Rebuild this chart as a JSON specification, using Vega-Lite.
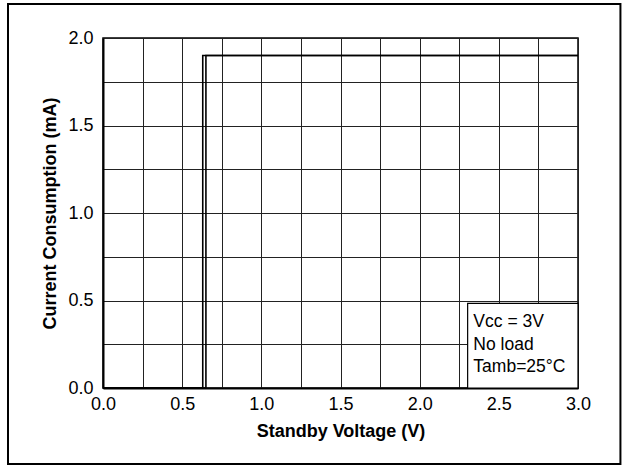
{
  "$schema": "https://vega.github.io/schema/vega-lite/v6.json",
  "width": 475,
  "height": 350,
  "autosize": "none",
  "padding": {"left": 103, "top": 38, "right": 44, "bottom": 77},
  "background": "white",
  "config": {
    "font": "Liberation Sans",
    "view": {"stroke": "#000", "strokeWidth": 1.5},
    "axis": {
      "labelFont": "Liberation Sans",
      "titleFont": "Liberation Sans",
      "labelFontSize": 18,
      "titleFontSize": 18,
      "titleFontWeight": "bold",
      "labelColor": "#000",
      "titleColor": "#000",
      "domainColor": "#000",
      "domainWidth": 2,
      "gridColor": "#222",
      "gridWidth": 1,
      "gridOpacity": 1,
      "tickSize": 0,
      "labelFlush": false,
      "labelOverlap": false
    }
  },
  "layer": [
    {
      "data": {"values": [
        {"v": 0, "i": 0, "s": "A", "o": 1},
        {"v": 0.63, "i": 0, "s": "A", "o": 2},
        {"v": 0.63, "i": 1.9, "s": "A", "o": 3},
        {"v": 3.0, "i": 1.9, "s": "A", "o": 4},
        {"v": 0, "i": 0, "s": "B", "o": 1},
        {"v": 0.65, "i": 0, "s": "B", "o": 2},
        {"v": 0.65, "i": 1.9, "s": "B", "o": 3},
        {"v": 3.0, "i": 1.9, "s": "B", "o": 4}
      ]},
      "mark": {"type": "line", "color": "#000", "strokeWidth": 1.6, "clip": false},
      "encoding": {
        "x": {
          "field": "v", "type": "quantitative",
          "scale": {"domain": [0, 3], "nice": false, "zero": false},
          "axis": {
            "title": "Standby Voltage (V)",
            "values": [0, 0.25, 0.5, 0.75, 1, 1.25, 1.5, 1.75, 2, 2.25, 2.5, 2.75, 3],
            "labelExpr": "(datum.value * 2) % 1 == 0 ? format(datum.value, '.1f') : ''",
            "labelPadding": 7,
            "titlePadding": 9
          }
        },
        "y": {
          "field": "i", "type": "quantitative",
          "scale": {"domain": [0, 2], "nice": false, "zero": false},
          "axis": {
            "title": "Current Consumption (mA)",
            "values": [0, 0.25, 0.5, 0.75, 1, 1.25, 1.5, 1.75, 2],
            "labelExpr": "(datum.value * 2) % 1 == 0 ? format(datum.value, '.1f') : ''",
            "labelPadding": 10,
            "titlePadding": 8
          }
        },
        "detail": {"field": "s"},
        "order": {"field": "o", "type": "quantitative"}
      }
    },
    {
      "data": {"values": [{}]},
      "mark": {"type": "rect", "fill": "white", "stroke": "#000", "strokeWidth": 1.2, "clip": false},
      "encoding": {
        "x": {"datum": 2.303, "type": "quantitative", "axis": {
            "title": "Standby Voltage (V)",
            "values": [0, 0.25, 0.5, 0.75, 1, 1.25, 1.5, 1.75, 2, 2.25, 2.5, 2.75, 3],
            "labelExpr": "(datum.value * 2) % 1 == 0 ? format(datum.value, '.1f') : ''",
            "labelPadding": 7,
            "titlePadding": 9
          }},
        "x2": {"datum": 3.0},
        "y": {"datum": 0.484, "type": "quantitative", "axis": {
            "title": "Current Consumption (mA)",
            "values": [0, 0.25, 0.5, 0.75, 1, 1.25, 1.5, 1.75, 2],
            "labelExpr": "(datum.value * 2) % 1 == 0 ? format(datum.value, '.1f') : ''",
            "labelPadding": 10,
            "titlePadding": 8
          }},
        "y2": {"datum": 0}
      }
    },
    {
      "data": {"values": [{}]},
      "mark": {"type": "text", "align": "left", "baseline": "top", "fontSize": 17.5, "lineHeight": 22.5, "font": "Liberation Sans", "color": "#000", "clip": false},
      "encoding": {
        "x": {"datum": 2.339, "type": "quantitative", "axis": {
            "title": "Standby Voltage (V)",
            "values": [0, 0.25, 0.5, 0.75, 1, 1.25, 1.5, 1.75, 2, 2.25, 2.5, 2.75, 3],
            "labelExpr": "(datum.value * 2) % 1 == 0 ? format(datum.value, '.1f') : ''",
            "labelPadding": 7,
            "titlePadding": 9
          }},
        "y": {"datum": 0.428, "type": "quantitative", "axis": {
            "title": "Current Consumption (mA)",
            "values": [0, 0.25, 0.5, 0.75, 1, 1.25, 1.5, 1.75, 2],
            "labelExpr": "(datum.value * 2) % 1 == 0 ? format(datum.value, '.1f') : ''",
            "labelPadding": 10,
            "titlePadding": 8
          }},
        "text": {"value": ["Vcc = 3V", "No load", "Tamb=25°C"]}
      }
    },
    {
      "data": {"values": [{}]},
      "mark": {"type": "rect", "fill": null, "fillOpacity": 0, "stroke": "#000", "strokeWidth": 2, "clip": false},
      "encoding": {
        "x": {"datum": -0.6, "type": "quantitative", "axis": {
            "title": "Standby Voltage (V)",
            "values": [0, 0.25, 0.5, 0.75, 1, 1.25, 1.5, 1.75, 2, 2.25, 2.5, 2.75, 3],
            "labelExpr": "(datum.value * 2) % 1 == 0 ? format(datum.value, '.1f') : ''",
            "labelPadding": 7,
            "titlePadding": 9
          }},
        "x2": {"datum": 3.268},
        "y": {"datum": 2.194, "type": "quantitative", "axis": {
            "title": "Current Consumption (mA)",
            "values": [0, 0.25, 0.5, 0.75, 1, 1.25, 1.5, 1.75, 2],
            "labelExpr": "(datum.value * 2) % 1 == 0 ? format(datum.value, '.1f') : ''",
            "labelPadding": 10,
            "titlePadding": 8
          }},
        "y2": {"datum": -0.434}
      }
    }
  ]
}
